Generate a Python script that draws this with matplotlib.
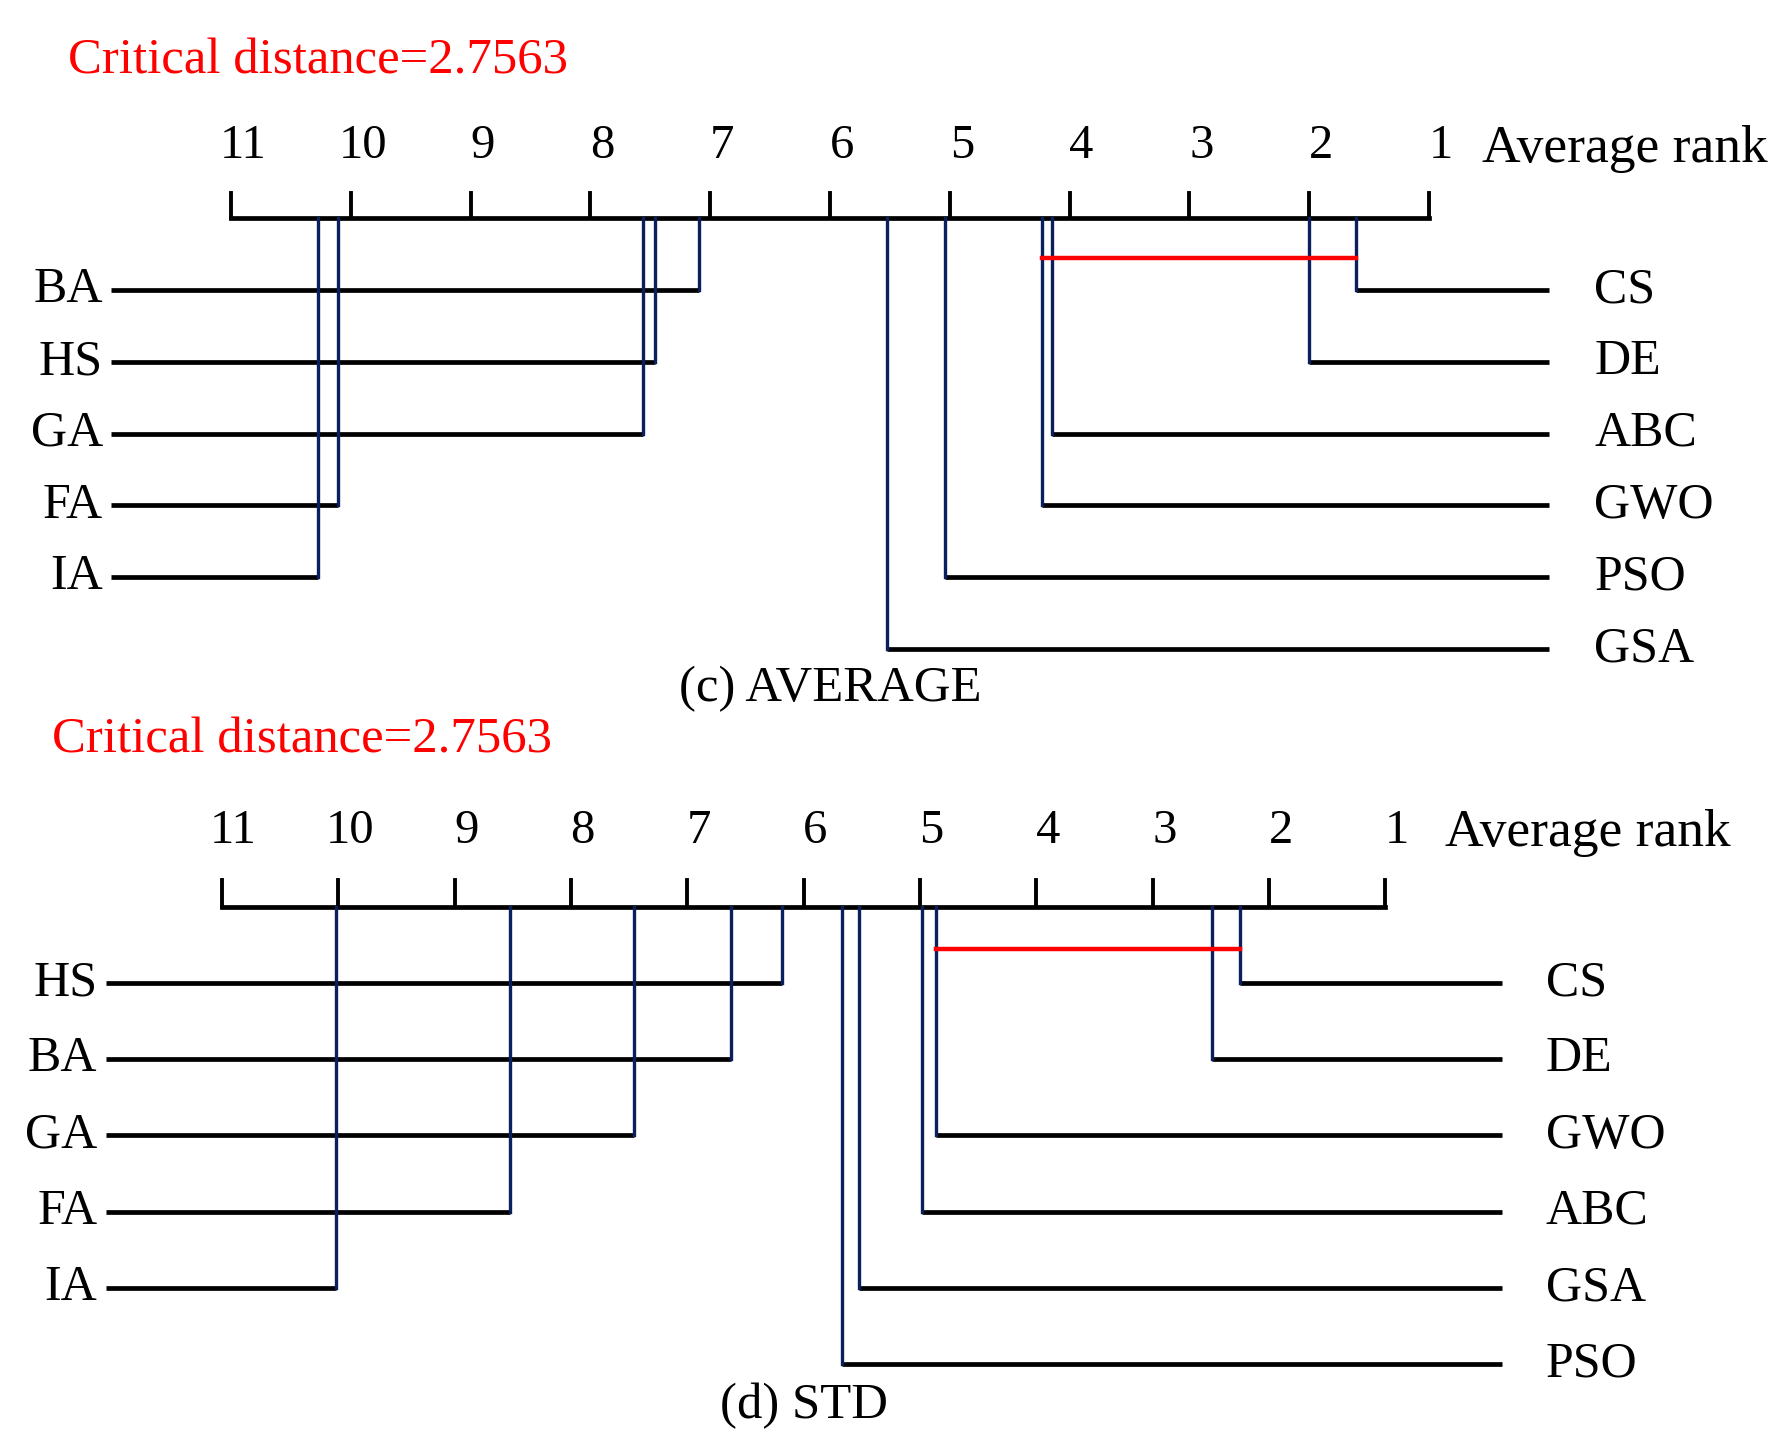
import numpy as np
import matplotlib.pyplot as plt

plt.rcParams['font.family'] = ['Liberation Serif', 'DejaVu Serif']

# Средние ранги алгоритмов
avg_names = ['CS', 'DE', 'ABC', 'GWO', 'PSO', 'GSA', 'BA', 'HS', 'GA', 'FA', 'IA']
avg_ranks = [1.61, 2.00, 4.15, 4.23, 5.04, 5.52, 7.09, 7.46, 7.56, 10.11, 10.27]

std_names = ['CS', 'DE', 'GWO', 'ABC', 'GSA', 'PSO', 'HS', 'BA', 'GA', 'FA', 'IA']
std_ranks = [2.25, 2.49, 4.86, 4.98, 5.52, 5.67, 6.19, 6.62, 7.46, 8.52, 10.02]

cd_value = 2.7563
avg_clique = ['CS', 'GWO']
std_clique = ['CS', 'GWO']
rank_ticks = list(range(1, 12))

navy = '#0b1f5c'


def draw_cd(ax, names, ranks, clique, caption, xlim, ylim, avg_x, cd_x):
    ax.set_xlim(xlim)
    ax.set_ylim(ylim)
    ax.axis('off')

    # ось рангов
    ax.plot([max(rank_ticks), min(rank_ticks)], [-1, -1], color='k', lw=3.4,
            solid_capstyle='projecting')
    for t in rank_ticks:
        ax.plot([t, t], [-1, -1.35], color='k', lw=2.8)
        ax.text(t - 0.1, -2.0, str(t), ha='center', va='center', fontsize=35)
    ax.text(avg_x, -1.97, 'Average rank', ha='left', va='center', fontsize=38.5)
    ax.text(cd_x, -3.18, 'Critical distance=%s' % cd_value, color='red',
            ha='left', va='center', fontsize=36.5)

    # линии алгоритмов
    order = np.argsort(ranks)
    n_right = (len(names) + 1) // 2
    for i, idx in enumerate(order):
        r = ranks[idx]
        if i < n_right:
            row = i
            ax.plot([r, 0], [row, row], color='k', lw=3.4, zorder=2,
                    solid_capstyle='butt')
            ax.text(-0.38, row, names[idx], ha='left', va='center', fontsize=36)
        else:
            row = i - n_right
            ax.plot([r, 12], [row, row], color='k', lw=3.4, zorder=2,
                    solid_capstyle='butt')
            ax.text(12.07, row, names[idx], ha='right', va='center', fontsize=36)
        ax.plot([r, r], [-1, row], color=navy, lw=2.4, zorder=3)

    # критическое расстояние
    r1 = ranks[names.index(clique[0])]
    r2 = ranks[names.index(clique[1])]
    ax.plot([r1, r2], [-0.45, -0.45], color='red', lw=3.2, zorder=4)

    ax.text(6, 5.55, caption, ha='center', va='center', fontsize=36.5)


fig = plt.figure(figsize=(17.85, 14.48), dpi=100)
split = 715 / 1448

ax1 = fig.add_axes([0, 1 - split, 1, split])
draw_cd(ax1, avg_names, avg_ranks, avg_clique, '(c) AVERAGE',
        (12.928, -1.972), (5.919, -4.039), 0.557, 12.36)

ax2 = fig.add_axes([0, 0, 1, 1 - split])
draw_cd(ax2, std_names, std_ranks, std_clique, '(d) STD',
        (12.908, -2.436), (6.102, -3.517), 0.49, 12.46)

plt.savefig('out.png', dpi=100)
